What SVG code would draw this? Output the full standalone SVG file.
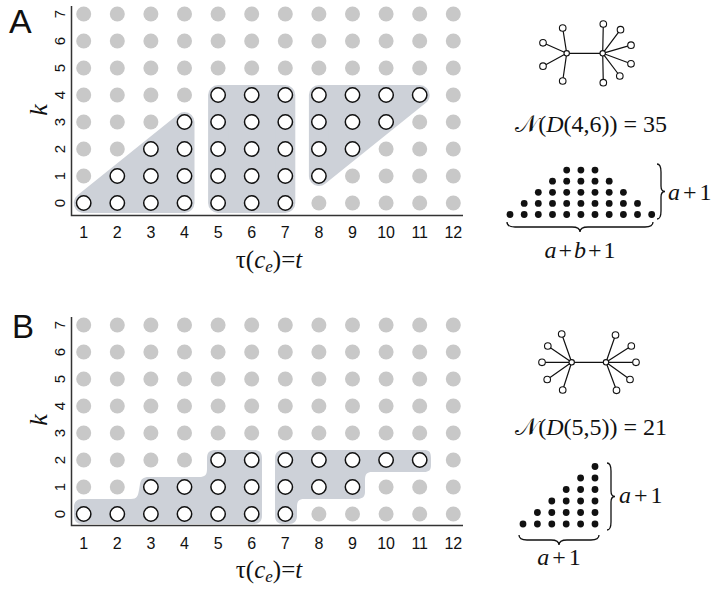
<svg xmlns="http://www.w3.org/2000/svg" width="716" height="589" viewBox="0 0 716 589">
<style>
text{font-family:"Liberation Sans",Arial,sans-serif;fill:#111}
.serif{font-family:"Liberation Serif","DejaVu Serif","DejaVu Sans",serif}
.it{font-style:italic}
.g{fill:#c8c8c8}
.o{fill:#fff;stroke:#111;stroke-width:1.5}
.hull{fill:#cdd1d8;stroke:#cdd1d8;stroke-width:20;stroke-linejoin:round}
.shade{fill:#cdd1d8}
.axis{fill:none;stroke:#333;stroke-width:1.5}
.xt{font-size:16px;text-anchor:middle}
.yt{font-size:15px;text-anchor:middle}
.edge{stroke:#111;stroke-width:1.2;fill:none}
.leaf{fill:#fff;stroke:#111;stroke-width:1.1}
.d{fill:#111}
.brace{fill:none;stroke:#111;stroke-width:1.3}
</style>

<!-- ================= PANEL A ================= -->
<g id="panelA">
<text x="9" y="33" font-size="34">A</text>
<g id="shadesA">
<polygon class="hull" points="83.7,203 184.5,203 184.5,122"/>
<polygon class="hull" points="218.1,203 285.3,203 285.3,95 218.1,95"/>
<polygon class="hull" points="318.9,176 318.9,95 419.7,95"/>
</g>
<g id="gridA">
<g transform="translate(0,14)"><circle class="g" cx="83.7" r="7.5"/><circle class="g" cx="117.3" r="7.5"/><circle class="g" cx="150.9" r="7.5"/><circle class="g" cx="184.5" r="7.5"/><circle class="g" cx="218.1" r="7.5"/><circle class="g" cx="251.7" r="7.5"/><circle class="g" cx="285.3" r="7.5"/><circle class="g" cx="318.9" r="7.5"/><circle class="g" cx="352.5" r="7.5"/><circle class="g" cx="386.1" r="7.5"/><circle class="g" cx="419.7" r="7.5"/><circle class="g" cx="453.3" r="7.5"/></g>
<g transform="translate(0,41)"><circle class="g" cx="83.7" r="7.5"/><circle class="g" cx="117.3" r="7.5"/><circle class="g" cx="150.9" r="7.5"/><circle class="g" cx="184.5" r="7.5"/><circle class="g" cx="218.1" r="7.5"/><circle class="g" cx="251.7" r="7.5"/><circle class="g" cx="285.3" r="7.5"/><circle class="g" cx="318.9" r="7.5"/><circle class="g" cx="352.5" r="7.5"/><circle class="g" cx="386.1" r="7.5"/><circle class="g" cx="419.7" r="7.5"/><circle class="g" cx="453.3" r="7.5"/></g>
<g transform="translate(0,68)"><circle class="g" cx="83.7" r="7.5"/><circle class="g" cx="117.3" r="7.5"/><circle class="g" cx="150.9" r="7.5"/><circle class="g" cx="184.5" r="7.5"/><circle class="g" cx="218.1" r="7.5"/><circle class="g" cx="251.7" r="7.5"/><circle class="g" cx="285.3" r="7.5"/><circle class="g" cx="318.9" r="7.5"/><circle class="g" cx="352.5" r="7.5"/><circle class="g" cx="386.1" r="7.5"/><circle class="g" cx="419.7" r="7.5"/><circle class="g" cx="453.3" r="7.5"/></g>
<g transform="translate(0,95)"><circle class="g" cx="83.7" r="7.5"/><circle class="g" cx="117.3" r="7.5"/><circle class="g" cx="150.9" r="7.5"/><circle class="g" cx="184.5" r="7.5"/><circle class="o" cx="218.1" r="7.2"/><circle class="o" cx="251.7" r="7.2"/><circle class="o" cx="285.3" r="7.2"/><circle class="o" cx="318.9" r="7.2"/><circle class="o" cx="352.5" r="7.2"/><circle class="o" cx="386.1" r="7.2"/><circle class="o" cx="419.7" r="7.2"/><circle class="g" cx="453.3" r="7.5"/></g>
<g transform="translate(0,122)"><circle class="g" cx="83.7" r="7.5"/><circle class="g" cx="117.3" r="7.5"/><circle class="g" cx="150.9" r="7.5"/><circle class="o" cx="184.5" r="7.2"/><circle class="o" cx="218.1" r="7.2"/><circle class="o" cx="251.7" r="7.2"/><circle class="o" cx="285.3" r="7.2"/><circle class="o" cx="318.9" r="7.2"/><circle class="o" cx="352.5" r="7.2"/><circle class="o" cx="386.1" r="7.2"/><circle class="g" cx="419.7" r="7.5"/><circle class="g" cx="453.3" r="7.5"/></g>
<g transform="translate(0,149)"><circle class="g" cx="83.7" r="7.5"/><circle class="g" cx="117.3" r="7.5"/><circle class="o" cx="150.9" r="7.2"/><circle class="o" cx="184.5" r="7.2"/><circle class="o" cx="218.1" r="7.2"/><circle class="o" cx="251.7" r="7.2"/><circle class="o" cx="285.3" r="7.2"/><circle class="o" cx="318.9" r="7.2"/><circle class="o" cx="352.5" r="7.2"/><circle class="g" cx="386.1" r="7.5"/><circle class="g" cx="419.7" r="7.5"/><circle class="g" cx="453.3" r="7.5"/></g>
<g transform="translate(0,176)"><circle class="g" cx="83.7" r="7.5"/><circle class="o" cx="117.3" r="7.2"/><circle class="o" cx="150.9" r="7.2"/><circle class="o" cx="184.5" r="7.2"/><circle class="o" cx="218.1" r="7.2"/><circle class="o" cx="251.7" r="7.2"/><circle class="o" cx="285.3" r="7.2"/><circle class="o" cx="318.9" r="7.2"/><circle class="g" cx="352.5" r="7.5"/><circle class="g" cx="386.1" r="7.5"/><circle class="g" cx="419.7" r="7.5"/><circle class="g" cx="453.3" r="7.5"/></g>
<g transform="translate(0,203)"><circle class="o" cx="83.7" r="7.2"/><circle class="o" cx="117.3" r="7.2"/><circle class="o" cx="150.9" r="7.2"/><circle class="o" cx="184.5" r="7.2"/><circle class="o" cx="218.1" r="7.2"/><circle class="o" cx="251.7" r="7.2"/><circle class="o" cx="285.3" r="7.2"/><circle class="g" cx="318.9" r="7.5"/><circle class="g" cx="352.5" r="7.5"/><circle class="g" cx="386.1" r="7.5"/><circle class="g" cx="419.7" r="7.5"/><circle class="g" cx="453.3" r="7.5"/></g>
</g>
<g id="axesA">
<path class="axis" d="M71.5,6 V215.5 H463"/>
<g class="yticks">
<text class="yt" transform="translate(59,203) rotate(-90)" dy="5.5">0</text>
<text class="yt" transform="translate(59,176) rotate(-90)" dy="5.5">1</text>
<text class="yt" transform="translate(59,149) rotate(-90)" dy="5.5">2</text>
<text class="yt" transform="translate(59,122) rotate(-90)" dy="5.5">3</text>
<text class="yt" transform="translate(59,95) rotate(-90)" dy="5.5">4</text>
<text class="yt" transform="translate(59,68) rotate(-90)" dy="5.5">5</text>
<text class="yt" transform="translate(59,41) rotate(-90)" dy="5.5">6</text>
<text class="yt" transform="translate(59,14) rotate(-90)" dy="5.5">7</text>
</g>
<g class="xticks">
<text class="xt" x="83.7" y="238">1</text><text class="xt" x="117.3" y="238">2</text><text class="xt" x="150.9" y="238">3</text><text class="xt" x="184.5" y="238">4</text><text class="xt" x="218.1" y="238">5</text><text class="xt" x="251.7" y="238">6</text><text class="xt" x="285.3" y="238">7</text><text class="xt" x="318.9" y="238">8</text><text class="xt" x="352.5" y="238">9</text><text class="xt" x="386.1" y="238">10</text><text class="xt" x="419.7" y="238">11</text><text class="xt" x="453.3" y="238">12</text>
</g>
<text class="serif it" font-size="26" transform="translate(47,110) rotate(-90)" text-anchor="middle">k</text>
<text class="serif" font-size="25" x="269" y="268" text-anchor="middle">τ(<tspan class="it">c</tspan><tspan class="it" font-size="17" dy="4">e</tspan><tspan dy="-4">)=</tspan><tspan class="it">t</tspan></text>
</g>
<g id="treeA">
<g id="treeA-edges">
<path class="edge" d="M566.7,53.3 H602.7 M566.7,53.3 L562.7,28 M566.7,53.3 L543,42.8 M566.7,53.3 L543,66.2 M566.7,53.3 L562.7,81 M602.7,53.3 L603.3,24 M602.7,53.3 L620.5,29.7 M602.7,53.3 L631,45.2 M602.7,53.3 L631,63.8 M602.7,53.3 L619.8,76 M602.7,53.3 L603.3,82.7"/>
</g>
<g id="treeA-nodes">
<circle class="leaf" cx="566.7" cy="53.3" r="2.7"/><circle class="leaf" cx="602.7" cy="53.3" r="2.7"/>
<circle class="leaf" cx="562.7" cy="28" r="3.3"/><circle class="leaf" cx="543" cy="42.8" r="3.3"/><circle class="leaf" cx="543" cy="66.2" r="3.3"/><circle class="leaf" cx="562.7" cy="81" r="3.3"/>
<circle class="leaf" cx="603.3" cy="24" r="3.3"/><circle class="leaf" cx="620.5" cy="29.7" r="3.3"/><circle class="leaf" cx="631" cy="45.2" r="3.3"/><circle class="leaf" cx="631" cy="63.8" r="3.3"/><circle class="leaf" cx="619.8" cy="76" r="3.3"/><circle class="leaf" cx="603.3" cy="82.7" r="3.3"/>
</g>
</g>
<text class="serif" font-size="24" x="667" y="132" text-anchor="end">𝒩(<tspan class="it">D</tspan>(4,6)) = 35</text>
<g id="dotsA">
<g transform="translate(0,214.5)"><circle class="d" cx="510" r="3.4"/><circle class="d" cx="524.2" r="3.4"/><circle class="d" cx="538.3" r="3.4"/><circle class="d" cx="552.5" r="3.4"/><circle class="d" cx="566.7" r="3.4"/><circle class="d" cx="580.9" r="3.4"/><circle class="d" cx="595" r="3.4"/><circle class="d" cx="609.2" r="3.4"/><circle class="d" cx="623.4" r="3.4"/><circle class="d" cx="637.5" r="3.4"/><circle class="d" cx="651.7" r="3.4"/></g>
<g transform="translate(0,203.4)"><circle class="d" cx="524.2" r="3.4"/><circle class="d" cx="538.3" r="3.4"/><circle class="d" cx="552.5" r="3.4"/><circle class="d" cx="566.7" r="3.4"/><circle class="d" cx="580.9" r="3.4"/><circle class="d" cx="595" r="3.4"/><circle class="d" cx="609.2" r="3.4"/><circle class="d" cx="623.4" r="3.4"/><circle class="d" cx="637.5" r="3.4"/></g>
<g transform="translate(0,192.3)"><circle class="d" cx="538.3" r="3.4"/><circle class="d" cx="552.5" r="3.4"/><circle class="d" cx="566.7" r="3.4"/><circle class="d" cx="580.9" r="3.4"/><circle class="d" cx="595" r="3.4"/><circle class="d" cx="609.2" r="3.4"/><circle class="d" cx="623.4" r="3.4"/></g>
<g transform="translate(0,181.2)"><circle class="d" cx="552.5" r="3.4"/><circle class="d" cx="566.7" r="3.4"/><circle class="d" cx="580.9" r="3.4"/><circle class="d" cx="595" r="3.4"/><circle class="d" cx="609.2" r="3.4"/></g>
<g transform="translate(0,170.1)"><circle class="d" cx="566.7" r="3.4"/><circle class="d" cx="580.9" r="3.4"/><circle class="d" cx="595" r="3.4"/></g>
</g>
<path class="brace" d="M657,164 Q661,164 661,172 L661,186 Q661,191.5 665,191.5 Q661,191.5 661,197 L661,211 Q661,219 657,219"/>
<text class="serif" font-size="24" x="668" y="200"><tspan class="it">a</tspan><tspan dx="3">+</tspan><tspan dx="3">1</tspan></text>
<path class="brace" d="M507,222 Q507,227 515,227 L572,227 Q580,227 580,232 Q580,227 588,227 L645,227 Q653,227 653,222"/>
<text class="serif" font-size="24" x="580" y="258" text-anchor="middle"><tspan class="it">a</tspan><tspan dx="2">+</tspan><tspan dx="2" class="it">b</tspan><tspan dx="2">+</tspan><tspan dx="2">1</tspan></text>
</g>

<!-- ================= PANEL B ================= -->
<g id="panelB">
<text x="12" y="338" font-size="33">B</text>
<g id="shadesB">
<path class="shade" d="M82,499 H131 C137,499 138,496 139,490 L140,484 C141,479 143,477 149,477 H199 C205,477 207,475 207,469 V458 C207,452 210,450 216,450 H254 C259,450 262,452 262,458 V516 C262,521 259,524 254,524 H82 C77,524 74,521 74,516 V507 C74,502 77,499 82,499 Z"/>
<path class="shade" d="M283,450 H424 C429,450 431,452 431,458 V465 C431,470 429,472 424,472 H372 C367,472 365,474 365,480 V492 C365,497 362,499 357,499 H304 C299,499 297,501 297,507 V516 C297,521 294,524 289,524 H283 C278,524 275,521 275,516 V458 C275,453 278,450 283,450 Z"/>
</g>
<g id="gridB">
<g transform="translate(0,325)"><circle class="g" cx="83.7" r="7.5"/><circle class="g" cx="117.3" r="7.5"/><circle class="g" cx="150.9" r="7.5"/><circle class="g" cx="184.5" r="7.5"/><circle class="g" cx="218.1" r="7.5"/><circle class="g" cx="251.7" r="7.5"/><circle class="g" cx="285.3" r="7.5"/><circle class="g" cx="318.9" r="7.5"/><circle class="g" cx="352.5" r="7.5"/><circle class="g" cx="386.1" r="7.5"/><circle class="g" cx="419.7" r="7.5"/><circle class="g" cx="453.3" r="7.5"/></g>
<g transform="translate(0,352)"><circle class="g" cx="83.7" r="7.5"/><circle class="g" cx="117.3" r="7.5"/><circle class="g" cx="150.9" r="7.5"/><circle class="g" cx="184.5" r="7.5"/><circle class="g" cx="218.1" r="7.5"/><circle class="g" cx="251.7" r="7.5"/><circle class="g" cx="285.3" r="7.5"/><circle class="g" cx="318.9" r="7.5"/><circle class="g" cx="352.5" r="7.5"/><circle class="g" cx="386.1" r="7.5"/><circle class="g" cx="419.7" r="7.5"/><circle class="g" cx="453.3" r="7.5"/></g>
<g transform="translate(0,379)"><circle class="g" cx="83.7" r="7.5"/><circle class="g" cx="117.3" r="7.5"/><circle class="g" cx="150.9" r="7.5"/><circle class="g" cx="184.5" r="7.5"/><circle class="g" cx="218.1" r="7.5"/><circle class="g" cx="251.7" r="7.5"/><circle class="g" cx="285.3" r="7.5"/><circle class="g" cx="318.9" r="7.5"/><circle class="g" cx="352.5" r="7.5"/><circle class="g" cx="386.1" r="7.5"/><circle class="g" cx="419.7" r="7.5"/><circle class="g" cx="453.3" r="7.5"/></g>
<g transform="translate(0,406)"><circle class="g" cx="83.7" r="7.5"/><circle class="g" cx="117.3" r="7.5"/><circle class="g" cx="150.9" r="7.5"/><circle class="g" cx="184.5" r="7.5"/><circle class="g" cx="218.1" r="7.5"/><circle class="g" cx="251.7" r="7.5"/><circle class="g" cx="285.3" r="7.5"/><circle class="g" cx="318.9" r="7.5"/><circle class="g" cx="352.5" r="7.5"/><circle class="g" cx="386.1" r="7.5"/><circle class="g" cx="419.7" r="7.5"/><circle class="g" cx="453.3" r="7.5"/></g>
<g transform="translate(0,433)"><circle class="g" cx="83.7" r="7.5"/><circle class="g" cx="117.3" r="7.5"/><circle class="g" cx="150.9" r="7.5"/><circle class="g" cx="184.5" r="7.5"/><circle class="g" cx="218.1" r="7.5"/><circle class="g" cx="251.7" r="7.5"/><circle class="g" cx="285.3" r="7.5"/><circle class="g" cx="318.9" r="7.5"/><circle class="g" cx="352.5" r="7.5"/><circle class="g" cx="386.1" r="7.5"/><circle class="g" cx="419.7" r="7.5"/><circle class="g" cx="453.3" r="7.5"/></g>
<g transform="translate(0,460)"><circle class="g" cx="83.7" r="7.5"/><circle class="g" cx="117.3" r="7.5"/><circle class="g" cx="150.9" r="7.5"/><circle class="g" cx="184.5" r="7.5"/><circle class="o" cx="218.1" r="7.2"/><circle class="o" cx="251.7" r="7.2"/><circle class="o" cx="285.3" r="7.2"/><circle class="o" cx="318.9" r="7.2"/><circle class="o" cx="352.5" r="7.2"/><circle class="o" cx="386.1" r="7.2"/><circle class="o" cx="419.7" r="7.2"/><circle class="g" cx="453.3" r="7.5"/></g>
<g transform="translate(0,487)"><circle class="g" cx="83.7" r="7.5"/><circle class="g" cx="117.3" r="7.5"/><circle class="o" cx="150.9" r="7.2"/><circle class="o" cx="184.5" r="7.2"/><circle class="o" cx="218.1" r="7.2"/><circle class="o" cx="251.7" r="7.2"/><circle class="o" cx="285.3" r="7.2"/><circle class="o" cx="318.9" r="7.2"/><circle class="o" cx="352.5" r="7.2"/><circle class="g" cx="386.1" r="7.5"/><circle class="g" cx="419.7" r="7.5"/><circle class="g" cx="453.3" r="7.5"/></g>
<g transform="translate(0,514)"><circle class="o" cx="83.7" r="7.2"/><circle class="o" cx="117.3" r="7.2"/><circle class="o" cx="150.9" r="7.2"/><circle class="o" cx="184.5" r="7.2"/><circle class="o" cx="218.1" r="7.2"/><circle class="o" cx="251.7" r="7.2"/><circle class="o" cx="285.3" r="7.2"/><circle class="g" cx="318.9" r="7.5"/><circle class="g" cx="352.5" r="7.5"/><circle class="g" cx="386.1" r="7.5"/><circle class="g" cx="419.7" r="7.5"/><circle class="g" cx="453.3" r="7.5"/></g>
</g>
<g id="axesB">
<path class="axis" d="M71.5,317 V525.5 H463"/>
<g class="yticks">
<text class="yt" transform="translate(59,514) rotate(-90)" dy="5.5">0</text>
<text class="yt" transform="translate(59,487) rotate(-90)" dy="5.5">1</text>
<text class="yt" transform="translate(59,460) rotate(-90)" dy="5.5">2</text>
<text class="yt" transform="translate(59,433) rotate(-90)" dy="5.5">3</text>
<text class="yt" transform="translate(59,406) rotate(-90)" dy="5.5">4</text>
<text class="yt" transform="translate(59,379) rotate(-90)" dy="5.5">5</text>
<text class="yt" transform="translate(59,352) rotate(-90)" dy="5.5">6</text>
<text class="yt" transform="translate(59,325) rotate(-90)" dy="5.5">7</text>
</g>
<g class="xticks">
<text class="xt" x="83.7" y="549">1</text><text class="xt" x="117.3" y="549">2</text><text class="xt" x="150.9" y="549">3</text><text class="xt" x="184.5" y="549">4</text><text class="xt" x="218.1" y="549">5</text><text class="xt" x="251.7" y="549">6</text><text class="xt" x="285.3" y="549">7</text><text class="xt" x="318.9" y="549">8</text><text class="xt" x="352.5" y="549">9</text><text class="xt" x="386.1" y="549">10</text><text class="xt" x="419.7" y="549">11</text><text class="xt" x="453.3" y="549">12</text>
</g>
<text class="serif it" font-size="26" transform="translate(47,420) rotate(-90)" text-anchor="middle">k</text>
<text class="serif" font-size="25" x="269" y="578" text-anchor="middle">τ(<tspan class="it">c</tspan><tspan class="it" font-size="17" dy="4">e</tspan><tspan dy="-4">)=</tspan><tspan class="it">t</tspan></text>
</g>
<g id="treeB">
<g id="treeB-edges">
<path class="edge" d="M571.7,362.3 H606 M571.7,362.3 L561.7,334 M571.7,362.3 L547.8,346 M571.7,362.3 L542,362.3 M571.7,362.3 L547.2,379.5 M571.7,362.3 L562.7,390 M606,362.3 L615.5,335 M606,362.3 L631.3,346 M606,362.3 L636,362.3 M606,362.3 L630,379.5 M606,362.3 L616.5,390.3"/>
</g>
<g id="treeB-nodes">
<circle class="leaf" cx="571.7" cy="362.3" r="2.7"/><circle class="leaf" cx="606" cy="362.3" r="2.7"/>
<circle class="leaf" cx="561.7" cy="334" r="3.3"/><circle class="leaf" cx="547.8" cy="346" r="3.3"/><circle class="leaf" cx="542" cy="362.3" r="3.3"/><circle class="leaf" cx="547.2" cy="379.5" r="3.3"/><circle class="leaf" cx="562.7" cy="390" r="3.3"/>
<circle class="leaf" cx="615.5" cy="335" r="3.3"/><circle class="leaf" cx="631.3" cy="346" r="3.3"/><circle class="leaf" cx="636" cy="362.3" r="3.3"/><circle class="leaf" cx="630" cy="379.5" r="3.3"/><circle class="leaf" cx="616.5" cy="390.3" r="3.3"/>
</g>
</g>
<text class="serif" font-size="24" x="667" y="435" text-anchor="end">𝒩(<tspan class="it">D</tspan>(5,5)) = 21</text>
<g id="dotsB">
<g transform="translate(0,524)"><circle class="d" cx="523" r="3.4"/><circle class="d" cx="537.4" r="3.4"/><circle class="d" cx="551.8" r="3.4"/><circle class="d" cx="566.2" r="3.4"/><circle class="d" cx="580.6" r="3.4"/><circle class="d" cx="595" r="3.4"/></g>
<g transform="translate(0,512.5)"><circle class="d" cx="537.4" r="3.4"/><circle class="d" cx="551.8" r="3.4"/><circle class="d" cx="566.2" r="3.4"/><circle class="d" cx="580.6" r="3.4"/><circle class="d" cx="595" r="3.4"/></g>
<g transform="translate(0,501)"><circle class="d" cx="551.8" r="3.4"/><circle class="d" cx="566.2" r="3.4"/><circle class="d" cx="580.6" r="3.4"/><circle class="d" cx="595" r="3.4"/></g>
<g transform="translate(0,489.5)"><circle class="d" cx="566.2" r="3.4"/><circle class="d" cx="580.6" r="3.4"/><circle class="d" cx="595" r="3.4"/></g>
<g transform="translate(0,478)"><circle class="d" cx="580.6" r="3.4"/><circle class="d" cx="595" r="3.4"/></g>
<g transform="translate(0,466.5)"><circle class="d" cx="595" r="3.4"/></g>
</g>
<path class="brace" d="M607,463 Q611,463 611,471 L611,491 Q611,496.5 615,496.5 Q611,496.5 611,502 L611,522 Q611,530 607,530"/>
<text class="serif" font-size="24" x="619" y="503"><tspan class="it">a</tspan><tspan dx="3">+</tspan><tspan dx="3">1</tspan></text>
<path class="brace" d="M519,535 Q519,540 527,540 L551,540 Q559,540 559,545 Q559,540 567,540 L591,540 Q599,540 599,535"/>
<text class="serif" font-size="24" x="559" y="565" text-anchor="middle"><tspan class="it">a</tspan><tspan dx="3">+</tspan><tspan dx="3">1</tspan></text>
</g>
</svg>
